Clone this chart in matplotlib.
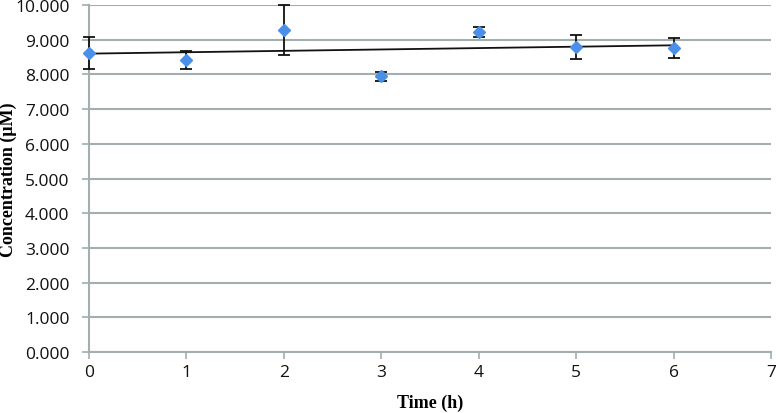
import matplotlib
matplotlib.use("Agg")
import matplotlib.pyplot as plt
import numpy as np

time_h = [0, 1, 2, 3, 4, 5, 6]
concentration = [8.62, 8.41, 9.28, 7.95, 9.22, 8.79, 8.76]
error = [0.47, 0.25, 0.73, 0.13, 0.14, 0.35, 0.30]
y_ticks = [0, 1, 2, 3, 4, 5, 6, 7, 8, 9, 10]
x_ticks = [0, 1, 2, 3, 4, 5, 6, 7]

fig = plt.figure(figsize=(7.76, 4.14), dpi=100)
ax = fig.add_axes([89/776, 1-353/414, (771-89)/776, (353-6)/414])

grid_c = "#a3aeae"
ax.set_xlim(0, 7)
ax.set_ylim(0, 10)
ax.set_yticks(y_ticks)
ax.set_xticks(x_ticks)
ax.set_yticklabels([f"{v:.3f}" for v in y_ticks])
ax.yaxis.grid(True, color=grid_c, linewidth=1.5)
ax.set_axisbelow(True)
for s in ["top", "right"]:
    ax.spines[s].set_visible(False)
for s in ["left", "bottom"]:
    ax.spines[s].set_color(grid_c)
    ax.spines[s].set_linewidth(1.5)
ax.tick_params(axis="both", color=grid_c, width=1.2, length=5, direction="out",
               labelsize=12.5, labelcolor="#111111")
ax.tick_params(axis="y", pad=9)
for lab in ax.get_xticklabels() + ax.get_yticklabels():
    lab.set_fontfamily("Open Sans")

# linear trend line
coef = np.polyfit(time_h, concentration, 1)
xt = np.array([min(time_h), max(time_h)])
ax.plot(xt, np.polyval(coef, xt), color="#111111", linewidth=1.3, zorder=3)

ax.errorbar(time_h, concentration, yerr=error, fmt="D", color="#4a90e8",
            markersize=6.5, ecolor="#111111", elinewidth=1.3, capsize=4,
            capthick=1.3, zorder=4, clip_on=False)

ax.set_xlabel("Time (h)", fontfamily="Liberation Serif", fontweight="bold",
              fontsize=13, labelpad=10)
ax.set_ylabel("Concentration (μM)", fontfamily="Liberation Serif", fontweight="bold",
              fontsize=13)
ax.yaxis.set_label_coords(-0.106, 0.5)

fig.savefig("out.png", dpi=100)
